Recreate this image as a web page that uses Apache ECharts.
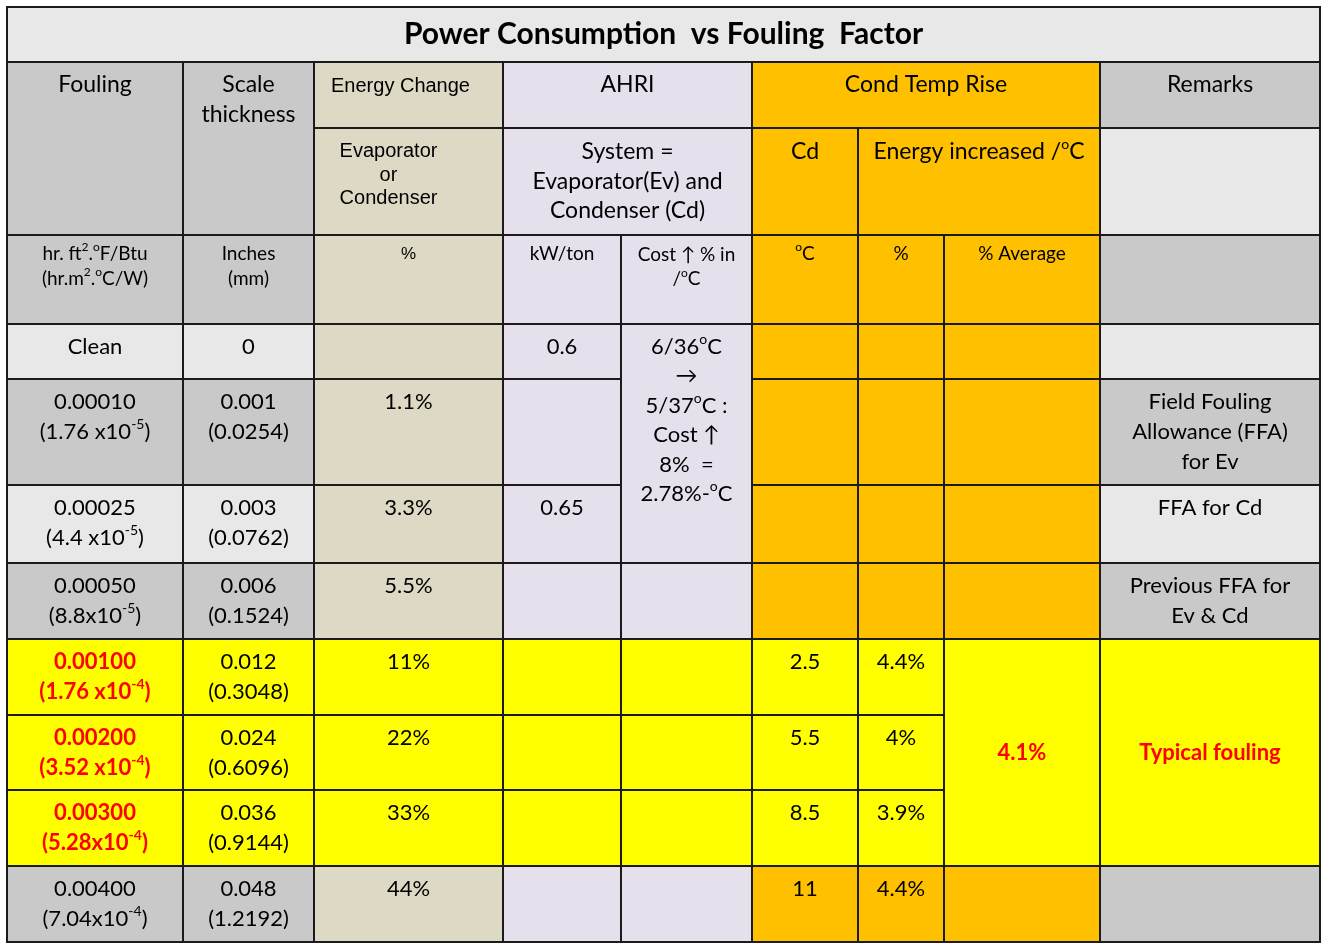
<!DOCTYPE html>
<html>
<head>
<meta charset="utf-8">
<title>Power Consumption vs Fouling Factor</title>
<script src="https://cdn.jsdelivr.net/npm/echarts@6/dist/echarts.min.js"></script>
<style>
    html, body { margin: 0; padding: 0; background: #fff; }
    #main { width: 1325px; height: 948px; }
</style>
</head>
<body>
<div id="main"></div>
<script>
// ---- 表格内容 ----  ([x] = superscript)
var title = 'Power Consumption  vs Fouling  Factor';
var foulingImperial = ['Clean', '0.00010', '0.00025', '0.00050', '0.00100', '0.00200', '0.00300', '0.00400'];
var foulingMetric = ['', '(1.76 x10[-5])', '(4.4 x10[-5])', '(8.8x10[-5])', '(1.76 x10[-4])', '(3.52 x10[-4])', '(5.28x10[-4])', '(7.04x10[-4])'];
var scaleInches = ['0', '0.001', '0.003', '0.006', '0.012', '0.024', '0.036', '0.048'];
var scaleMm = ['', '(0.0254)', '(0.0762)', '(0.1524)', '(0.3048)', '(0.6096)', '(0.9144)', '(1.2192)'];
var energyChange = ['', '1.1%', '3.3%', '5.5%', '11%', '22%', '33%', '44%'];
var kwPerTon = ['0.6', '', '0.65', '', '', '', '', ''];
var condRise = ['', '', '', '', '2.5', '5.5', '8.5', '11'];
var energyPerDeg = ['', '', '', '', '4.4%', '4%', '3.9%', '4.4%'];
var averagePerDeg = '4.1%';
var costNote = '6/36[o]C\n→\n5/37[o]C :\nCost ↑\n8%  =\n2.78%-[o]C';
var remarks = ['', 'Field Fouling\nAllowance (FFA)\nfor Ev', 'FFA for Cd', 'Previous FFA for\nEv & Cd', 'Typical fouling', '', '', ''];
var typicalRows = [4, 5, 6];

// ---- 版面: 列/行 边界 (axis units) ----
var colX = [7, 183, 314, 503, 621, 752, 858, 944, 1100, 1320];
var rowY = [7, 62, 128, 235, 324, 379, 485, 563, 639, 715, 790, 866, 942];

var 颜色 = {
    title: '#e8e8e8', dark: '#c9c9c9', light: '#e8e8e8', tan: '#ddd9c4',
    lav: '#e5e0ec', orange: '#ffc000', yellow: '#ffff00', red: '#ff0000'
};
var CAL = 'Lato, "Noto Sans", sans-serif';
var ARIAL = '"Liberation Sans", Arial, sans-serif';

var cells = [];
function add(c0, c1, r0, r1, fill, text, opt) {
    opt = opt || {};
    cells.push({
        c0: c0, c1: c1, r0: r0, r1: r1, fill: fill, text: text || '',
        fs: opt.fs || 22, lh: opt.lh || 30, pad: opt.pad == null ? 8 : opt.pad,
        dx: opt.dx || 0, font: opt.font || CAL, bold: !!opt.bold,
        color: opt.color || '#000', middle: !!opt.middle
    });
}

// 表头
add(0, 9, 0, 1, 颜色.title, title, { fs: 30, bold: true, middle: true, lh: 34 });
add(0, 1, 1, 3, 颜色.dark, 'Fouling', { fs: 23 });
add(1, 2, 1, 3, 颜色.dark, 'Scale\nthickness', { fs: 23 });
add(2, 3, 1, 2, 颜色.tan, 'Energy Change', { font: ARIAL, fs: 20, pad: 9, dx: -8 });
add(3, 5, 1, 2, 颜色.lav, 'AHRI', { fs: 23 });
add(5, 8, 1, 2, 颜色.orange, 'Cond Temp Rise', { fs: 23 });
add(8, 9, 1, 2, 颜色.dark, 'Remarks', { fs: 23 });
add(2, 3, 2, 3, 颜色.tan, 'Evaporator\nor\nCondenser', { font: ARIAL, fs: 20, lh: 23.5, pad: 12, dx: -20 });
add(3, 5, 2, 3, 颜色.lav, 'System =\nEvaporator(Ev) and\nCondenser (Cd)', { fs: 23, lh: 29.5, pad: 9 });
add(5, 6, 2, 3, 颜色.orange, 'Cd', { fs: 23, pad: 9 });
add(6, 8, 2, 3, 颜色.orange, 'Energy increased /[o]C', { fs: 23, pad: 9 });
add(8, 9, 2, 3, 颜色.light, '');
add(0, 1, 3, 4, 颜色.dark, 'hr. ft[2].[o]F/Btu\n(hr.m[2].[o]C/W)', { fs: 19, lh: 25, pad: 6 });
add(1, 2, 3, 4, 颜色.dark, 'Inches\n(mm)', { fs: 19, lh: 25, pad: 6 });
add(2, 3, 3, 4, 颜色.tan, '%', { font: ARIAL, fs: 17, lh: 25, pad: 7 });
add(3, 4, 3, 4, 颜色.lav, 'kW/ton', { fs: 19, lh: 25, pad: 6 });
add(4, 5, 3, 4, 颜色.lav, 'Cost ↑ % in\n/[o]C', { fs: 19, lh: 24, pad: 8 });
add(5, 6, 3, 4, 颜色.orange, '[o]C', { fs: 19, lh: 25, pad: 6 });
add(6, 7, 3, 4, 颜色.orange, '%', { fs: 19, lh: 25, pad: 6 });
add(7, 8, 3, 4, 颜色.orange, '% Average', { fs: 19, lh: 25, pad: 6 });
add(8, 9, 3, 4, 颜色.dark, '');

// 数据行
for (var i = 0; i < foulingImperial.length; i++) {
    var r = 4 + i;
    var typical = typicalRows.indexOf(i) >= 0;
    var shade = (i == 0 || i == 2) ? 颜色.light : 颜色.dark;
    var f0 = typical ? 颜色.yellow : shade;
    var two = function (a, b) { return b ? a + '\n' + b : a; };
    add(0, 1, r, r + 1, f0, two(foulingImperial[i], foulingMetric[i]),
        typical ? { bold: true, color: 颜色.red } : {});
    add(1, 2, r, r + 1, f0, two(scaleInches[i], scaleMm[i]));
    add(2, 3, r, r + 1, typical ? 颜色.yellow : 颜色.tan, energyChange[i]);
    add(3, 4, r, r + 1, typical ? 颜色.yellow : 颜色.lav, kwPerTon[i]);
    if (i == 0) add(4, 5, r, r + 3, 颜色.lav, costNote, { lh: 29.5 });
    else if (i > 2) add(4, 5, r, r + 1, typical ? 颜色.yellow : 颜色.lav, '');
    add(5, 6, r, r + 1, typical ? 颜色.yellow : 颜色.orange, condRise[i]);
    add(6, 7, r, r + 1, typical ? 颜色.yellow : 颜色.orange, energyPerDeg[i]);
    if (!typical) {
        add(7, 8, r, r + 1, 颜色.orange, '');
        add(8, 9, r, r + 1, shade, remarks[i]);
    }
    else if (i == typicalRows[0]) {
        var n = typicalRows.length;
        add(7, 8, r, r + n, 颜色.yellow, averagePerDeg, { bold: true, color: 颜色.red, middle: true });
        add(8, 9, r, r + n, 颜色.yellow, remarks[i], { bold: true, color: 颜色.red, middle: true });
    }
}

/*
[x] 上标 -> rich text
*/
function toRich(str) {
    return str.split('\n').map(function (line) {
        return line.replace(/\[([^\]]*)\]|([^\[]+)/g, function (m, sup, plain) {
            return sup !== undefined ? '{s|' + sup + '}' : '{n|' + plain + '}';
        });
    }).join('\n');
}

function renderCell(params, api) {
    var cell = cells[params.dataIndex];
    var p0 = api.coord([colX[cell.c0], rowY[cell.r0]]);
    var p1 = api.coord([colX[cell.c1], rowY[cell.r1]]);
    var children = [{
        type: 'rect',
        shape: { x: p0[0], y: p0[1], width: p1[0] - p0[0], height: p1[1] - p0[1] },
        style: { fill: cell.fill, stroke: '#1b1b1b', lineWidth: 2 }
    }];
    if (cell.text) {
        var base = {
            fontSize: cell.fs, lineHeight: cell.lh, fontFamily: cell.font,
            fontWeight: cell.bold ? 'bold' : 'normal', fill: cell.color, align: 'center'
        };
        var sup = Object.assign({}, base, {
            fontSize: Math.round(cell.fs * 0.62), lineHeight: Math.round(cell.lh * 0.62), verticalAlign: 'top'
        });
        children.push({
            type: 'text',
            x: (p0[0] + p1[0]) / 2 + cell.dx,
            y: cell.middle ? (p0[1] + p1[1]) / 2 : p0[1] + cell.pad,
            style: {
                text: toRich(cell.text),
                rich: { n: base, s: sup },
                align: 'center',
                verticalAlign: cell.middle ? 'middle' : 'top'
            }
        });
    }
    return { type: 'group', children: children };
}

var myChart = echarts.init(document.getElementById('main'));
var option = {
    animation: false,
    grid: { left: 0, right: 0, top: 0, bottom: 0 },
    xAxis: { type: 'value', min: 0, max: 1325, show: false },
    yAxis: { type: 'value', min: 0, max: 948, inverse: true, show: false },
    series: [{
        type: 'custom',
        renderItem: renderCell,
        data: cells.map(function (c, idx) { return [colX[c.c0], rowY[c.r0], idx]; }),
        silent: true
    }]
};
myChart.setOption(option);
</script>
</body>
</html>
